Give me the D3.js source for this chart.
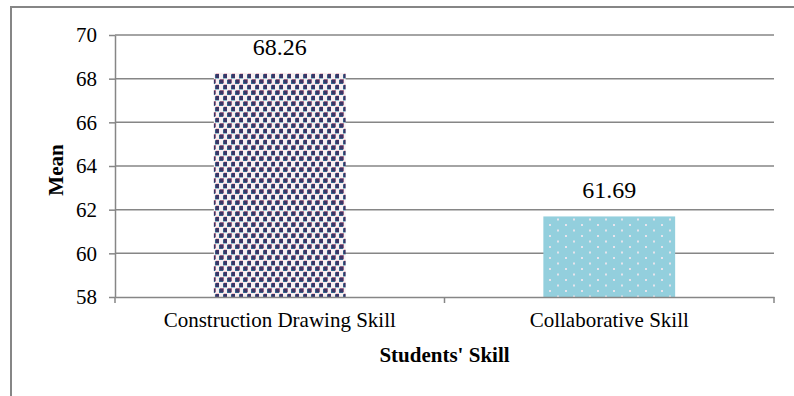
<!DOCTYPE html>
<html>
<head>
<meta charset="utf-8">
<script src="https://cdn.jsdelivr.net/npm/d3@7"></script>
<style>
  body { margin: 0; background: #fff; }
  svg { display: block; }
  svg text { font-family: "Liberation Serif", "Times New Roman", serif; fill: #000; }
</style>
</head>
<body>
<div id="chart"></div>
<script>
var categories = ["Construction Drawing Skill", "Collaborative Skill"];
var means = [68.26, 61.69];
var yTicks = [58, 60, 62, 64, 66, 68, 70];
var fills = ["url(#dotsDark)", "url(#dotsBlue)"];

var W = 794, H = 396;
var margin = {top: 35, right: 20, bottom: 99, left: 115},
    width = 774 - margin.left,
    height = 297 - margin.top;

var svg = d3.select("#chart").append("svg")
    .attr("width", W)
    .attr("height", H);

// patterns for the two bars
var defs = svg.append("defs");
var p1 = defs.append("pattern")
    .attr("id", "dotsDark")
    .attr("patternUnits", "userSpaceOnUse")
    .attr("width", 8).attr("height", 11);
p1.append("rect").attr("width", 8).attr("height", 11).attr("fill", "#f8f0f2");
[[0, 0], [4, 5.5]].forEach(function(o) {
  p1.append("rect").attr("x", o[0] + 1).attr("y", o[1]).attr("width", 4).attr("height", 4).attr("fill", "#e79aa8");
  p1.append("rect").attr("x", o[0]).attr("y", o[1] + 1).attr("width", 4).attr("height", 4).attr("fill", "#2f8aa6");
  p1.append("rect").attr("x", o[0] + 0.5).attr("y", o[1] + 0.5).attr("width", 4).attr("height", 4).attr("fill", "#3b3566");
});

var p2 = defs.append("pattern")
    .attr("id", "dotsBlue")
    .attr("patternUnits", "userSpaceOnUse")
    .attr("width", 16).attr("height", 11);
p2.append("rect").attr("width", 16).attr("height", 11).attr("fill", "#93cfdd");
p2.append("rect").attr("x", 2).attr("y", 2).attr("width", 2).attr("height", 2).attr("fill", "#e6e3ec");
p2.append("rect").attr("x", 10).attr("y", 7.5).attr("width", 2).attr("height", 2).attr("fill", "#e6e3ec");

// outer frame
svg.append("path")
    .attr("d", "M11,396 V7 H794")
    .attr("fill", "none")
    .attr("stroke", "#868686")
    .attr("stroke-width", 2);

var g = svg.append("g")
    .attr("transform", "translate(" + margin.left + "," + margin.top + ")");

var x = d3.scaleBand()
    .domain(categories)
    .range([0, width])
    .paddingInner(0.6)
    .paddingOuter(0.3);

var y = d3.scaleLinear()
    .domain([58, 70])
    .range([height, 0]);

// gridlines
g.append("g")
    .selectAll("line")
    .data(yTicks.slice(1))
    .enter().append("line")
    .attr("x1", 0).attr("x2", width)
    .attr("y1", function(d) { return y(d); })
    .attr("y2", function(d) { return y(d); })
    .attr("stroke", "#868686")
    .attr("stroke-width", 1.5);

// bars
g.selectAll(".bar")
    .data(means)
    .enter().append("rect")
    .attr("class", "bar")
    .attr("x", function(d, i) { return x(categories[i]); })
    .attr("width", x.bandwidth())
    .attr("y", function(d) { return y(d); })
    .attr("height", function(d) { return height - y(d); })
    .attr("fill", function(d, i) { return fills[i]; });

// value labels
g.selectAll(".val")
    .data(means)
    .enter().append("text")
    .attr("x", function(d, i) { return x(categories[i]) + x.bandwidth() / 2; })
    .attr("y", function(d) { return y(d) - 18; })
    .attr("text-anchor", "middle")
    .attr("font-size", "24px")
    .text(function(d) { return d.toFixed(2); });

// y axis
var yAxis = g.append("g")
    .call(d3.axisLeft(y).tickValues(yTicks).tickSize(6).tickSizeOuter(0).tickPadding(12));
yAxis.attr("font-family", null).attr("font-size", null);
yAxis.select(".domain").attr("stroke", "#868686").attr("stroke-width", 1.5);
yAxis.selectAll(".tick line").attr("stroke", "#868686").attr("stroke-width", 1.5);
yAxis.selectAll(".tick text")
    .attr("font-size", "21px")
    .attr("fill", "#000");

// x axis
var xAxis = g.append("g")
    .attr("transform", "translate(0," + height + ")")
    .call(d3.axisBottom(x).tickSize(0).tickPadding(15));
xAxis.attr("font-family", null).attr("font-size", null);
xAxis.select(".domain").attr("stroke", "#868686").attr("stroke-width", 1.5);
xAxis.selectAll(".tick text")
    .attr("font-size", "21px")
    .attr("fill", "#000");

// x separators between categories
g.append("g")
    .selectAll("line")
    .data([0, width / 2, width])
    .enter().append("line")
    .attr("x1", function(d) { return d; })
    .attr("x2", function(d) { return d; })
    .attr("y1", height).attr("y2", height + 6)
    .attr("stroke", "#868686")
    .attr("stroke-width", 1.5);

// axis titles
g.append("text")
    .attr("transform", "translate(-52," + (height / 2 + 4) + ") rotate(-90)")
    .attr("text-anchor", "middle")
    .attr("font-weight", "bold")
    .attr("font-size", "21px")
    .text("Mean");

g.append("text")
    .attr("x", width / 2)
    .attr("y", height + 65)
    .attr("text-anchor", "middle")
    .attr("font-weight", "bold")
    .attr("font-size", "21px")
    .text("Students' Skill");
</script>
</body>
</html>
